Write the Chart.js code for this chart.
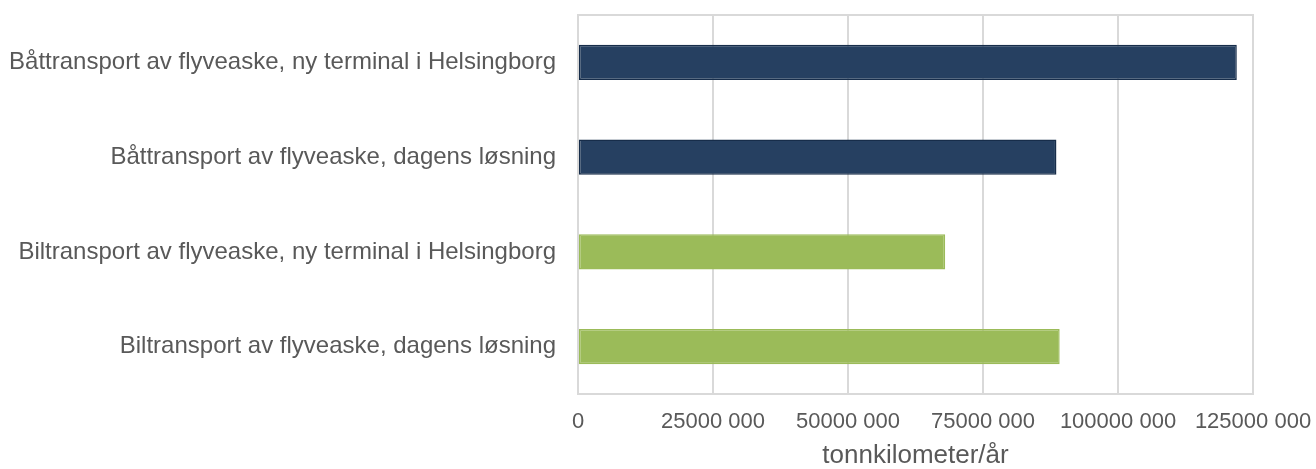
<!DOCTYPE html>
<html>
<head>
<meta charset="utf-8">
<script src="https://cdn.jsdelivr.net/npm/chart.js@4"></script>
<style>
  html, body { margin: 0; padding: 0; background: #fff; }
  #wrap { width: 1316px; height: 469px; }
</style>
</head>
<body>
<div id="wrap"><canvas id="grafTransport"></canvas></div>
<script>
const kategorier = [
  "Båttransport av flyveaske, ny terminal i Helsingborg",
  "Båttransport av flyveaske, dagens løsning",
  "Biltransport av flyveaske, ny terminal i Helsingborg",
  "Biltransport av flyveaske, dagens løsning"
];
const verdier = [122000000, 88600000, 68000000, 89200000];
const farger = ["#264061", "#264061", "#9bbb59", "#9bbb59"];
const kantfarger = ["#172d4a", "#172d4a", "#9bbb59", "#9bbb59"];
const aksetittel = "tonnkilometer/år";

// 25000 000 style: only the last group of three digits is split off
function formaterTall(v) {
  if (v === 0) return "0";
  const hel = Math.floor(v / 1000);
  const rest = String(v % 1000).padStart(3, "0");
  return hel + " " + rest;
}

// grey frame around the plot area
const ramme = {
  id: "ramme",
  afterDraw(chart) {
    const { ctx, chartArea: a } = chart;
    ctx.save();
    ctx.strokeStyle = "#d9d9d9";
    ctx.lineWidth = 2;
    ctx.strokeRect(a.left, a.top, a.right - a.left, a.bottom - a.top);
    ctx.restore();
  }
};

Chart.defaults.font.family = "'Liberation Sans', Arial, sans-serif";
Chart.defaults.color = "#595959";

new Chart(document.getElementById("grafTransport"), {
  type: "bar",
  data: {
    labels: kategorier,
    datasets: [{
      data: verdier,
      backgroundColor: farger,
      borderColor: kantfarger,
      borderWidth: 1.5,
      borderSkipped: false,
      barPercentage: 0.37,
      categoryPercentage: 1
    }]
  },
  options: {
    indexAxis: "y",
    responsive: true,
    maintainAspectRatio: false,
    animation: false,
    layout: { padding: { top: 15, right: 63, bottom: 0, left: 0 } },
    plugins: {
      legend: { display: false },
      tooltip: { enabled: false }
    },
    scales: {
      x: {
        min: 0,
        max: 125000000,
        afterFit: s => {
          s.height = 75;
          s.paddingLeft = 0;
          s.paddingRight = 0;
        },
        ticks: {
          stepSize: 25000000,
          callback: v => formaterTall(v),
          font: { size: 22 },
          maxRotation: 0,
          padding: 15
        },
        grid: { color: "#d9d9d9", lineWidth: 2, drawTicks: false },
        border: { display: false },
        title: {
          display: true,
          text: aksetittel,
          font: { size: 26 },
          padding: { top: 0, bottom: -2 }
        }
      },
      y: {
        afterFit: s => {
          s.width = 578;
          s.paddingTop = 0;
          s.paddingBottom = 0;
        },
        ticks: { font: { size: 24 }, padding: 22 },
        grid: { display: false, drawTicks: false },
        border: { display: false }
      }
    }
  },
  plugins: [ramme]
});
</script>
</body>
</html>
